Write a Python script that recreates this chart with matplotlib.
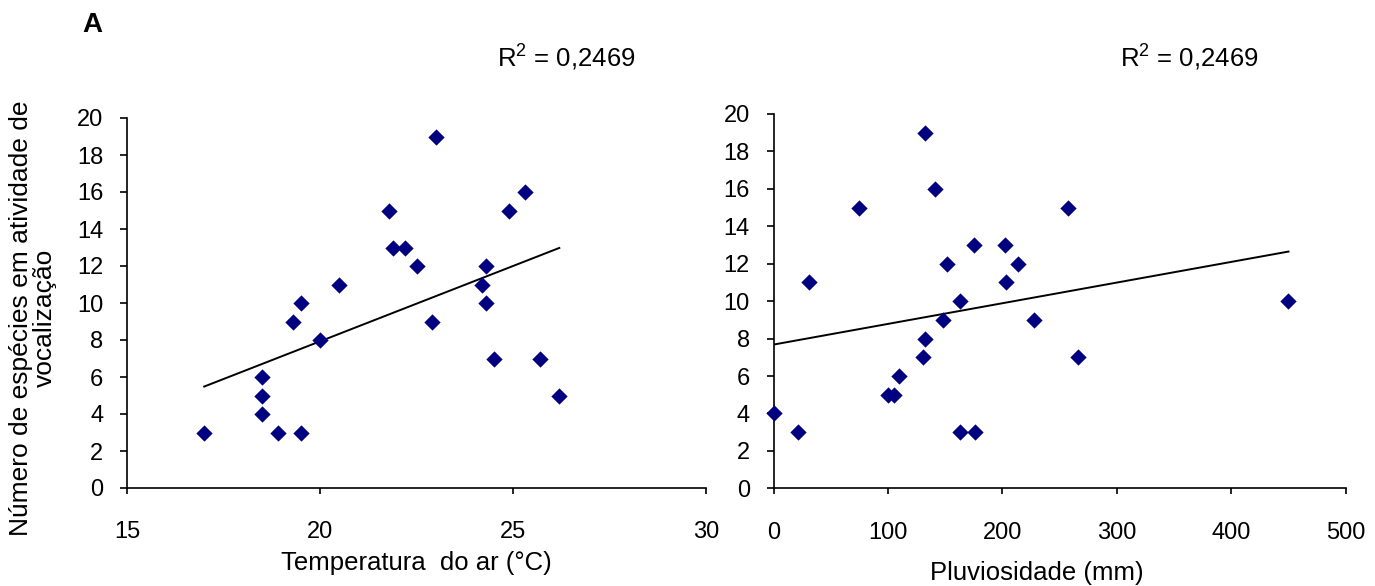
import numpy as np
import matplotlib
matplotlib.use("Agg")
import matplotlib.pyplot as plt

plt.rcParams['font.family'] = ['Liberation Sans', 'DejaVu Sans']
plt.rcParams['mathtext.fontset'] = 'custom'
plt.rcParams['mathtext.rm'] = 'Liberation Sans'
plt.rcParams['mathtext.it'] = 'Liberation Sans'

# Left panel: air temperature vs number of calling species
temp_x = [17.0, 18.5, 18.5, 18.5, 18.9, 19.5, 19.3, 19.5, 20.0, 20.5, 21.8, 21.9,
          22.2, 22.5, 23.0, 22.9, 25.3, 24.9, 24.3, 24.2, 24.3, 24.5, 25.7, 26.2]
temp_y = [3, 6, 5, 4, 3, 3, 9, 10, 8, 11, 15, 13,
          13, 12, 19, 9, 16, 15, 12, 11, 10, 7, 7, 5]

# Right panel: rainfall vs number of calling species
rain_x = [132, 141, 75, 175, 202, 152, 214, 31, 203, 163, 148, 228,
          132, 131, 266, 110, 100, 105, 0, 21, 163, 176, 257, 450]
rain_y = [19, 16, 15, 13, 13, 12, 12, 11, 11, 10, 9, 9,
          8, 7, 7, 6, 5, 5, 4, 3, 3, 3, 15, 10]

temp_xticks = [15, 20, 25, 30]
rain_xticks = [0, 100, 200, 300, 400, 500]
yticks = list(range(0, 21, 2))
r2_text = r"$\mathrm{R}^{2}$ = 0,2469"

W, H = 1375, 586
fig = plt.figure(figsize=(W / 100, H / 100), dpi=100)

def px_axes(x0, x1, y0, y1):
    return fig.add_axes([x0 / W, 1 - y1 / H, (x1 - x0) / W, (y1 - y0) / H])

ax1 = px_axes(127, 706, 118, 488)
ax2 = px_axes(773.5, 1345.7, 114, 488.3)

FS = 17
LFS = 18.5
for ax, xs, ys, xt in [(ax1, temp_x, temp_y, temp_xticks), (ax2, rain_x, rain_y, rain_xticks)]:
    ax.scatter(xs, ys, marker='D', s=8.3**2, color='#000080', zorder=3, linewidths=0,
               clip_on=False)
    k, b = np.polyfit(xs, ys, 1)
    xl = np.array([min(xs), max(xs)])
    ax.plot(xl, k * xl + b, color='black', lw=1.4, zorder=2)
    ax.set_xlim(xt[0], xt[-1])
    ax.set_ylim(0, 20)
    ax.set_xticks(xt)
    ax.set_yticks(yticks)
    for s in ['top', 'right']:
        ax.spines[s].set_visible(False)
    for s in ['left', 'bottom']:
        ax.spines[s].set_linewidth(1.2)
        ax.spines[s].set_color('black')
    ax.tick_params(axis='y', direction='out', length=5, width=1.2, labelsize=FS, pad=12, colors='black')
    ax.tick_params(axis='x', direction='out', length=4, width=1.2, labelsize=FS, pad=20, colors='black')
    for lab in ax.get_xticklabels() + ax.get_yticklabels():
        lab.set_clip_on(False)

fig.text((281 + 552) / 2 / W, 1 - 563 / H, "Temperatura  do ar (°C)",
         ha='center', va='center', fontsize=LFS)
fig.text((940 + 1133) / 2 / W, 1 - 573 / H, "Pluviosidade (mm)",
         ha='center', va='center', fontsize=LFS)
fig.text(33 / W, 1 - 318 / H, "Número de espécies em atividade de\nvocalização",
         ha='center', va='center', rotation=90, fontsize=LFS + 0.5, linespacing=1.0)
fig.text(566 / W, 1 - 58 / H, r2_text, ha='center', va='center', fontsize=LFS)
fig.text(1189 / W, 1 - 58 / H, r2_text, ha='center', va='center', fontsize=LFS)
fig.text(92 / W, 1 - 25 / H, "A", ha='center', va='center', fontsize=20, fontweight='bold')

fig.savefig("out.png", dpi=100)
